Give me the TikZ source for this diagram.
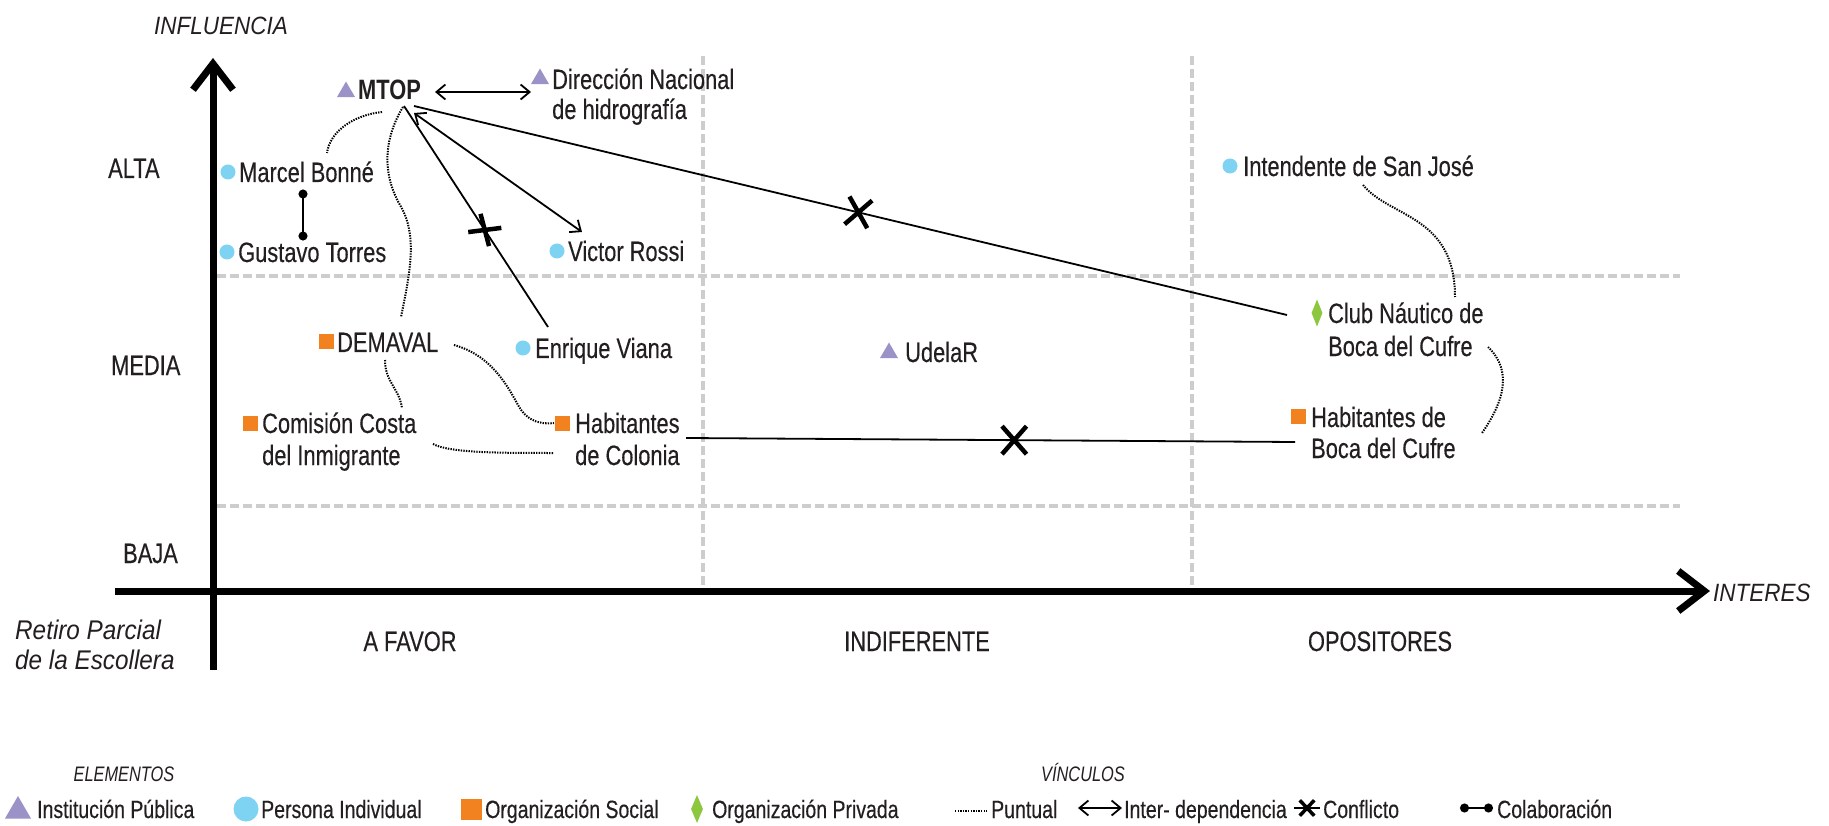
\documentclass[tikz,border=0pt]{standalone}
\usepackage{fontspec}
\setmainfont{Liberation Sans}[FakeStretch=0.78, UprightFeatures={FakeBold=0.3}]
\newfontfamily\itfam{Liberation Sans}[FakeStretch=0.9]
\newfontfamily\itnarrow{Liberation Sans}[FakeStretch=0.78]
\usetikzlibrary{arrows.meta,shapes.geometric,shapes.misc,calc}
\definecolor{tricol}{HTML}{9B93C8}
\definecolor{circol}{HTML}{7FD3F2}
\definecolor{sqcol}{HTML}{F2811F}
\definecolor{diacol}{HTML}{8DC63F}
\definecolor{gridcol}{HTML}{CDCDCD}
\definecolor{txt}{HTML}{231F20}
\begin{document}
\begin{tikzpicture}[x=1pt,y=-1pt,
  lbl/.style={inner sep=0pt, anchor=base west, align=left, text=txt, font=\fontsize{28}{32}\selectfont},
  caplbl/.style={inner sep=0pt, anchor=base, text=txt, font=\fontsize{28}{32}\selectfont},
  itlbl/.style={inner sep=0pt, anchor=base west, align=left, text=txt, font=\itfam\itshape\fontsize{25}{29}\selectfont},
  ittitle/.style={inner sep=0pt, anchor=base, text=txt, font=\itnarrow\itshape\fontsize{21}{25}\selectfont},
  lgd/.style={inner sep=0pt, anchor=base west, text=txt, font=\fontsize{25}{30}\selectfont},
  tri/.style={regular polygon, regular polygon sides=3, fill=tricol, inner sep=0pt, minimum size=21pt},
  circ/.style={circle, fill=circol, inner sep=0pt, minimum size=15pt},
  sq/.style={rectangle, fill=sqcol, inner sep=0pt, minimum size=15pt},
  dia/.style={diamond, fill=diacol, inner sep=0pt, minimum width=11pt, minimum height=27pt},
  gridln/.style={gridcol, line width=3.5pt, dash pattern=on 9pt off 4pt},
  axisln/.style={line width=7pt, -{Straight Barb[length=26pt,width=40pt]}},
  link/.style={line width=1.8pt, draw=black},
  dep/.style={link, {Straight Barb[length=9pt,width=15pt]}-{Straight Barb[length=9pt,width=15pt]}},
  punt/.style={line width=2pt, dash pattern=on 1.4pt off 1.2pt},
  collab/.style={link, {Circle[length=9pt]}-{Circle[length=9pt]}},
  xnode/.style={cross out, draw=black, line width=4.5pt, inner sep=0pt}
]
\fill[white] (0,0) rectangle (1829,826);
\useasboundingbox (0,0) rectangle (1829,826);

% grid
\draw[gridln] (217,276) -- (1680,276);
\draw[gridln] (217,506) -- (1680,506);
\draw[gridln] (703,56) -- (703,591);
\draw[gridln] (1192,56) -- (1192,591);

% axes
\coordinate (ybot) at (213,670);
\coordinate (ytop) at (213,58);
\coordinate (xleft) at (115,591);
\coordinate (xright) at (1710,591);
\draw[axisln] (ybot) -- (ytop);
\draw[axisln] (xleft) -- (xright);

% axis labels
\node[itlbl] (influencia) at (154,35) {INFLUENCIA};
\node[itlbl] (interes) at (1713,601) {INTERES};
\node[lbl] (alta) at (108,178) {ALTA};
\node[lbl] (media) at (111,375) {MEDIA};
\node[lbl] (baja) at (123,563) {BAJA};
\node[itlbl, font=\itfam\itshape\fontsize{27}{30}\selectfont] (retiro) at (15,669) {Retiro Parcial\\de la Escollera};
\node[caplbl] (afavor) at (410,651) {A FAVOR};
\node[caplbl] (indif) at (917,651) {INDIFERENTE};
\node[caplbl] (opos) at (1380,651) {OPOSITORES};

% markers
\node[tri] (mtopm) at (346,92) {};
\node[tri] (dnhm) at (540,79) {};
\node[circ] (marcelm) at (228,172) {};
\node[circ] (gustavom) at (227,252) {};
\node[circ] (victorm) at (557,251) {};
\node[circ] (enriquem) at (523,348) {};
\node[sq] (demavalm) at (326,342) {};
\node[sq] (comisionm) at (250,423) {};
\node[sq] (habcolm) at (562,423) {};
\node[tri] (udelarm) at (889,353) {};
\node[circ] (intendentem) at (1230,166) {};
\node[dia] (clubm) at (1317,313) {};
\node[sq] (habbocam) at (1298,416) {};

% labels
\node[lbl, font=\bfseries\fontsize{28}{32}\selectfont] (mtop) at (358,100) {MTOP};
\node[lbl, font=\fontsize{28}{30}\selectfont] (dnh) at (552,119) {Dirección Nacional\\de hidrografía};
\node[lbl] (marcel) at (239,182) {Marcel Bonné};
\node[lbl] (gustavo) at (238,262) {Gustavo Torres};
\node[lbl] (victor) at (568,261) {Victor Rossi};
\node[lbl] (enrique) at (535,358) {Enrique Viana};
\node[lbl] (demaval) at (337,352) {DEMAVAL};
\node[lbl] (comision) at (262,465) {Comisión Costa\\del Inmigrante};
\node[lbl] (habcol) at (575,465) {Habitantes\\de Colonia};
\node[lbl] (udelar) at (905,362) {UdelaR};
\node[lbl] (intendente) at (1243,176) {Intendente de San José};
\node[lbl, font=\fontsize{28}{33}\selectfont] (club) at (1328,356) {Club Náutico de\\Boca del Cufre};
\node[lbl, font=\fontsize{28}{31}\selectfont] (habboca) at (1311,458) {Habitantes de\\Boca del Cufre};

% interdependence
\draw[dep] ($(mtopm)+(89,0)$) -- ($(dnhm)+(-9,13)$);
\draw[dep] ($(mtopm)+(68,21)$) -- ($(victorm)+(25,-19)$);

% conflicts
\draw[link] ($(mtopm)+(58,14)$) -- node[xnode, pos=0.561, rotate=-34, minimum width=20.6pt, minimum height=17.5pt]{} ($(enriquem)+(25,-21)$);
\draw[link] ($(mtopm)+(68,14)$) -- node[xnode, pos=0.509, rotate=-10, minimum width=18.5pt, minimum height=23.6pt]{} ($(clubm)+(-30,2)$);
\draw[link] ($(habcolm)+(124,15)$) -- node[xnode, pos=0.539, minimum width=20pt, minimum height=23.5pt]{} ($(habbocam)+(-3,26)$);

% collaboration
\draw[collab] ($(marcelm)+(75,17.5)$) -- ($(gustavom)+(76,-11.5)$);

% puntual
\draw[punt] ($(mtopm)+(36,20)$) .. controls +(-28,3) and +(3,-22) .. ($(marcelm)+(99,-19)$);
\draw[punt] ($(mtopm)+(57,15)$) .. controls +(-17,28) and +(-20,-35) .. (400,205) .. controls +(18,30) and +(9,-44) .. ($(demavalm)+(75,-25)$);
\draw[punt] ($(demavalm)+(59,18)$) .. controls +(0,22) and +(-3,-20) .. ($(comisionm)+(152,-15)$);
\draw[punt] ($(demavalm)+(128,3)$) .. controls +(36,10) and +(-12,-22) .. (518,405) .. controls +(7,13) and +(-18,2) .. ($(habcolm)+(-8,0)$);
\draw[punt] ($(comisionm)+(183,21)$) .. controls +(17,9) and +(-54,0) .. ($(habcolm)+(-8,30)$);
\draw[punt] ($(intendentem)+(133,19)$) .. controls +(27,33) and +(0,-82) .. ($(clubm)+(138,-16)$);
\draw[punt] ($(clubm)+(171,34)$) .. controls +(24,23) and +(23,-33) .. ($(habbocam)+(184,17)$);

% legend
\node[ittitle] (elementos) at (124,781) {ELEMENTOS};
\node[ittitle] (vinculos) at (1083,781) {VÍNCULOS};
\node[tri, minimum size=30pt] (ltri) at (18,811) {};
\node[lgd] (ltritxt) at (37,818) {Institución Pública};
\node[circ, minimum size=25pt] (lcirc) at (246,809) {};
\node[lgd] (lcirctxt) at (261,818) {Persona Individual};
\node[sq, minimum size=21pt] (lsq) at (471,809) {};
\node[lgd] (lsqtxt) at (485,818) {Organización Social};
\node[dia, minimum width=12pt, minimum height=28pt] (ldia) at (697,809) {};
\node[lgd] (ldiatxt) at (712,818) {Organización Privada};

\coordinate (lp1) at (955,811);
\coordinate (lp2) at (987,811);
\draw[punt] (lp1) -- (lp2);
\node[lgd] (lpunt) at (991,818) {Puntual};
\coordinate (ld1) at (1078,808);
\coordinate (ld2) at (1122,808);
\draw[dep] (ld1) -- (ld2);
\node[lgd] (ldep) at (1124,818) {Inter- dependencia};
\coordinate (lc1) at (1294,808);
\coordinate (lc2) at (1320,808);
\draw[link] (lc1) -- node[xnode, line width=3.5pt, minimum width=11pt, minimum height=12pt]{} (lc2);
\node[lgd] (lconf) at (1323,818) {Conflicto};
\coordinate (lb1) at (1460,808);
\coordinate (lb2) at (1493,808);
\draw[collab] (lb1) -- (lb2);
\node[lgd] (lcolab) at (1497,818) {Colaboración};
\end{tikzpicture}
\end{document}
